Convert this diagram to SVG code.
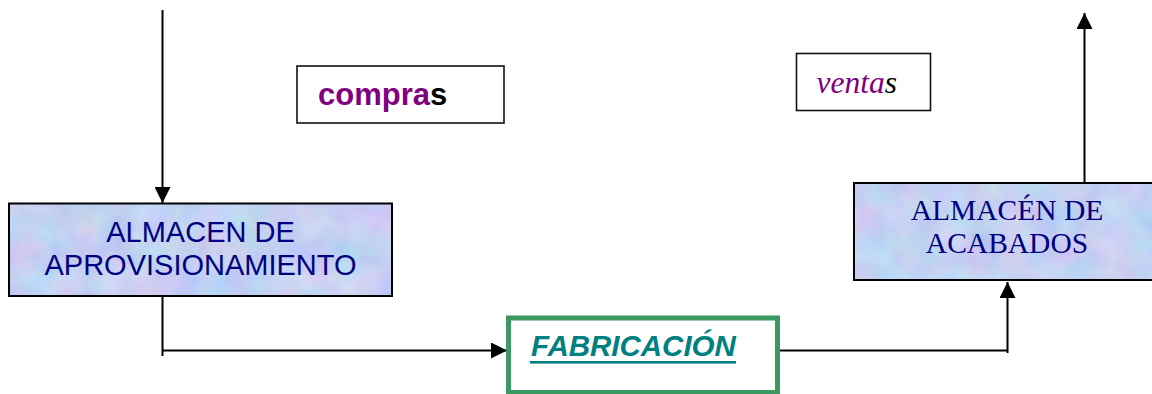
<svg xmlns="http://www.w3.org/2000/svg" width="1152" height="394" viewBox="0 0 1152 394">
<style>
.conn{stroke:#000;stroke-width:2;fill:none}
.box{fill:none;stroke:#000;stroke-width:2}
.lbl{fill:#fff;stroke:#111;stroke-width:1.6}
.sans{font-family:"Liberation Sans",Arial,sans-serif}
.serif{font-family:"Liberation Serif","Times New Roman",serif}
.navy{fill:#000080}
.purple{fill:#800080}
</style>
<defs>
<filter id="tex" x="0" y="0" width="100%" height="100%" filterUnits="objectBoundingBox" color-interpolation-filters="sRGB">
<feTurbulence type="fractalNoise" baseFrequency="0.03" numOctaves="3" seed="5" result="n"/>
<feColorMatrix in="n" type="matrix" values="0.2 0 0 0 0.67  0 0.16 0 0 0.74  0 0 0.08 0 0.91  0 0 0 0 1" result="c"/>
<feComposite in="c" in2="SourceGraphic" operator="in"/>
</filter>
<marker id="arr" viewBox="0 0 16 16" refX="16" refY="8" markerWidth="16" markerHeight="16" markerUnits="userSpaceOnUse" orient="auto">
<path d="M0,0 L16,8 L0,16 z" fill="#000"/>
</marker>
</defs>
<rect width="1152" height="394" fill="#fff"/>
<g id="connectors">
<path class="conn" d="M162.5,10 V203" marker-end="url(#arr)"/>
<path class="conn" d="M162.5,296 V356 M162.5,350.5 H507" marker-end="url(#arr)"/>
<path class="conn" d="M780,350.5 H1007.5 V353 M1007.5,353 V282" marker-end="url(#arr)"/>
<path class="conn" d="M1084.5,183 V13" marker-end="url(#arr)"/>
</g>
<g id="almacen-aprovisionamiento">
<rect x="9" y="203.5" width="383" height="92.5" fill="#c8d4f4" filter="url(#tex)"/>
<rect class="box" x="9" y="203.5" width="383" height="92.5"/>
<text class="sans navy" font-size="29" text-anchor="middle" x="200.5" y="242">ALMACEN DE</text>
<text class="sans navy" font-size="29" text-anchor="middle" x="200.5" y="275">APROVISIONAMIENTO</text>
</g>
<g id="almacen-acabados">
<rect x="854" y="183" width="310" height="97" fill="#c8d4f4" filter="url(#tex)"/>
<rect class="box" x="854" y="183" width="310" height="97"/>
<text class="serif navy" font-size="29.5" text-anchor="middle" x="1007" y="220">ALMACÉN DE</text>
<text class="serif navy" font-size="29.5" text-anchor="middle" x="1007" y="252.5">ACABADOS</text>
</g>
<g id="fabricacion">
<rect x="508.5" y="318" width="269" height="74.5" fill="#fff" stroke="#3a9a62" stroke-width="5"/>
<text class="sans" font-size="29.5" font-weight="bold" font-style="italic" fill="#008080" x="531" y="356">FABRICACIÓN</text>
<rect x="530" y="361" width="206" height="2.6" fill="#008080"/>
</g>
<g id="compras">
<rect class="lbl" x="297" y="66" width="207" height="57"/>
<text class="sans" font-size="31" font-weight="bold" x="318" y="105"><tspan class="purple">compra</tspan><tspan fill="#000">s</tspan></text>
</g>
<g id="ventas">
<rect class="lbl" x="796.5" y="53.5" width="134" height="57"/>
<text class="serif" font-size="31.5" font-style="italic" x="816.5" y="92.5"><tspan class="purple">venta</tspan><tspan fill="#000">s</tspan></text>
</g>
</svg>
